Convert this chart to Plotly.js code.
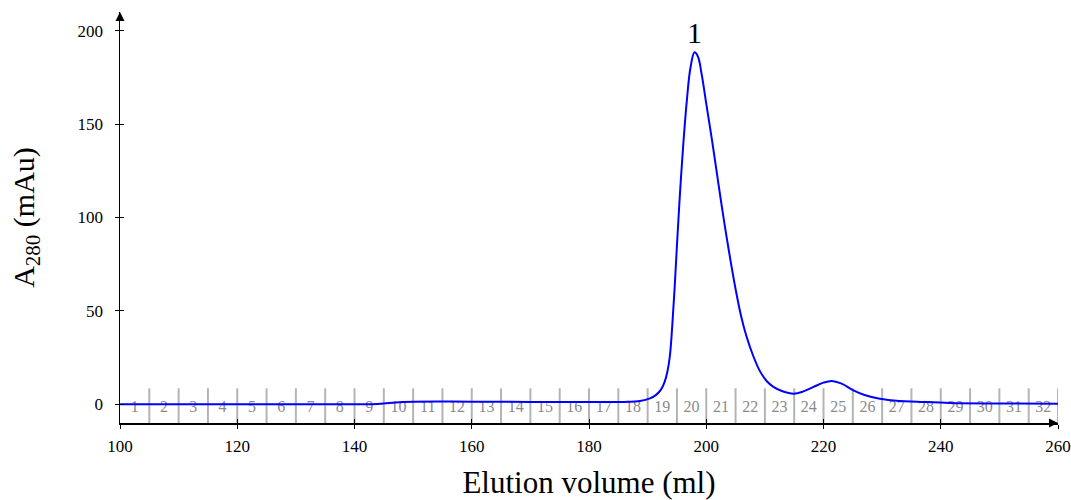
<!DOCTYPE html>
<html>
<head>
<meta charset="utf-8">
<script src="https://cdn.plot.ly/plotly-3.0.1.min.js"></script>
<style>html,body{margin:0;padding:0;background:#fff;}#chart{width:1071px;height:500px;}</style>
</head>
<body>
<div id="chart"></div>
<script>
const elutionVolume = [100, 110, 120, 130, 140, 143, 145, 147, 150, 155, 160, 170, 180, 186, 188.7, 190.4, 191.5, 192.3, 192.9, 193.4, 193.8, 194.2, 194.6, 195.0, 195.5, 196.1, 196.7, 197.3, 198.0, 198.6, 199.2, 200.0, 201.0, 201.8, 202.6, 203.4, 204.3, 205.2, 206.0, 206.9, 208.0, 209.2, 210.3, 211.4, 213.0, 214.9, 216.5, 218.3, 220.0, 221.4, 223.0, 225.1, 227.0, 229.6, 233.0, 236.0, 241.6, 250, 260];
const absorbance280 = [0, 0, 0, 0, 0, 0.05, 0.4, 1.0, 1.4, 1.5, 1.4, 1.3, 1.2, 1.3, 1.8, 3.2, 5.2, 8, 12, 18, 26, 42, 62, 85, 112, 140, 163, 180, 188.4, 186, 177, 161, 141, 124, 107, 91, 74, 58.5, 46.5, 36, 26, 17.5, 12.5, 9.5, 7.0, 5.7, 6.8, 9.3, 11.6, 12.5, 11.2, 7.5, 5.0, 3.0, 1.8, 1.4, 0.7, 0.45, 0.35];

// Fractions (5 ml each)
const fractionBoundaries = [105, 110, 115, 120, 125, 130, 135, 140, 145, 150, 155, 160, 165, 170, 175, 180, 185, 190, 195, 200, 205, 210, 215, 220, 225, 230, 235, 240, 245, 250, 255, 260];
const fractionCenters = [102.5, 107.5, 112.5, 117.5, 122.5, 127.5, 132.5, 137.5, 142.5, 147.5, 152.5, 157.5, 162.5, 167.5, 172.5, 177.5, 182.5, 187.5, 192.5, 197.5, 202.5, 207.5, 212.5, 217.5, 222.5, 227.5, 232.5, 237.5, 242.5, 247.5, 252.5, 257.5];
const fractionLabels = ['1','2','3','4','5','6','7','8','9','10','11','12','13','14','15','16','17','18','19','20','21','22','23','24','25','26','27','28','29','30','31','32'];

const xTicks = [100, 120, 140, 160, 180, 200, 220, 240, 260];
const yTicks = [0, 50, 100, 150, 200];
const peakLabel = {x: 198, y: 199, text: '1'};

const FONT = 'Liberation Serif, DejaVu Serif, serif';
const xMin = 100, xMax = 260, yMin = -10, yMax = 210, markTop = 8.6;

const fx = [], fy = [];
fractionBoundaries.forEach(b => { fx.push(b, b, null); fy.push(yMin, markTop, null); });

const traces = [
  {x: fx, y: fy, mode: 'lines', line: {color: '#b4b4b4', width: 2}, hoverinfo: 'skip', showlegend: false},
  {x: fractionCenters, y: fractionCenters.map(() => -1.8), mode: 'text', text: fractionLabels,
   textfont: {family: FONT, size: 16, color: '#8a8a8a'}, textposition: 'middle center', hoverinfo: 'skip', showlegend: false},
  {x: elutionVolume, y: absorbance280, mode: 'lines', line: {color: '#0000ff', width: 2, shape: 'spline', smoothing: 1}, showlegend: false},
  // axis arrowheads
  {x: [xMax, xMin], y: [yMin, yMax], mode: 'markers', cliponaxis: false, hoverinfo: 'skip', showlegend: false,
   marker: {symbol: ['arrow-right', 'arrow-up'], size: 9, color: '#000', line: {width: 0}}},
  {x: [null], y: [null], xaxis: 'x2', yaxis: 'y2', showlegend: false, hoverinfo: 'skip'}
];

const layout = {
  width: 1071, height: 500,
  margin: {l: 120, r: 13, t: 12, b: 77},
  paper_bgcolor: '#fff', plot_bgcolor: '#fff',
  font: {family: FONT, color: '#000'},
  xaxis: {range: [xMin, xMax], showgrid: false, zeroline: false, showline: true, linecolor: '#000', linewidth: 1.5,
    tickvals: xTicks, ticks: 'outside', ticklen: 4, tickcolor: '#000', tickwidth: 1,
    tickfont: {family: FONT, size: 17}, ticklabelstandoff: 3,
    title: {text: 'Elution volume (ml)', font: {family: FONT, size: 31}, standoff: 19}},
  yaxis: {range: [yMin, yMax], showgrid: false, zeroline: false, showline: true, linecolor: '#000', linewidth: 1.5,
    tickvals: yTicks, ticks: 'outside', ticklen: 4, tickcolor: '#000', tickwidth: 1,
    tickfont: {family: FONT, size: 17}, ticklabelstandoff: 8,
    title: {text: 'A<sub>280</sub> (mAu)', font: {family: FONT, size: 30}, standoff: 34}},
  xaxis2: {range: [xMin, xMax], overlaying: 'x', showgrid: false, zeroline: false, showline: false,
    tickvals: xTicks, ticks: 'inside', ticklen: 4, tickcolor: '#000', showticklabels: false},
  yaxis2: {range: [yMin, yMax], overlaying: 'y', showgrid: false, zeroline: false, showline: false,
    tickvals: yTicks, ticks: 'inside', ticklen: 4, tickcolor: '#000', showticklabels: false},
  annotations: [
    {x: peakLabel.x, y: peakLabel.y, xref: 'x', yref: 'y', text: peakLabel.text, showarrow: false,
     font: {family: FONT, size: 30, color: '#000'}}
  ]
};

Plotly.newPlot('chart', traces, layout, {displayModeBar: false, staticPlot: true});
</script>
</body>
</html>
